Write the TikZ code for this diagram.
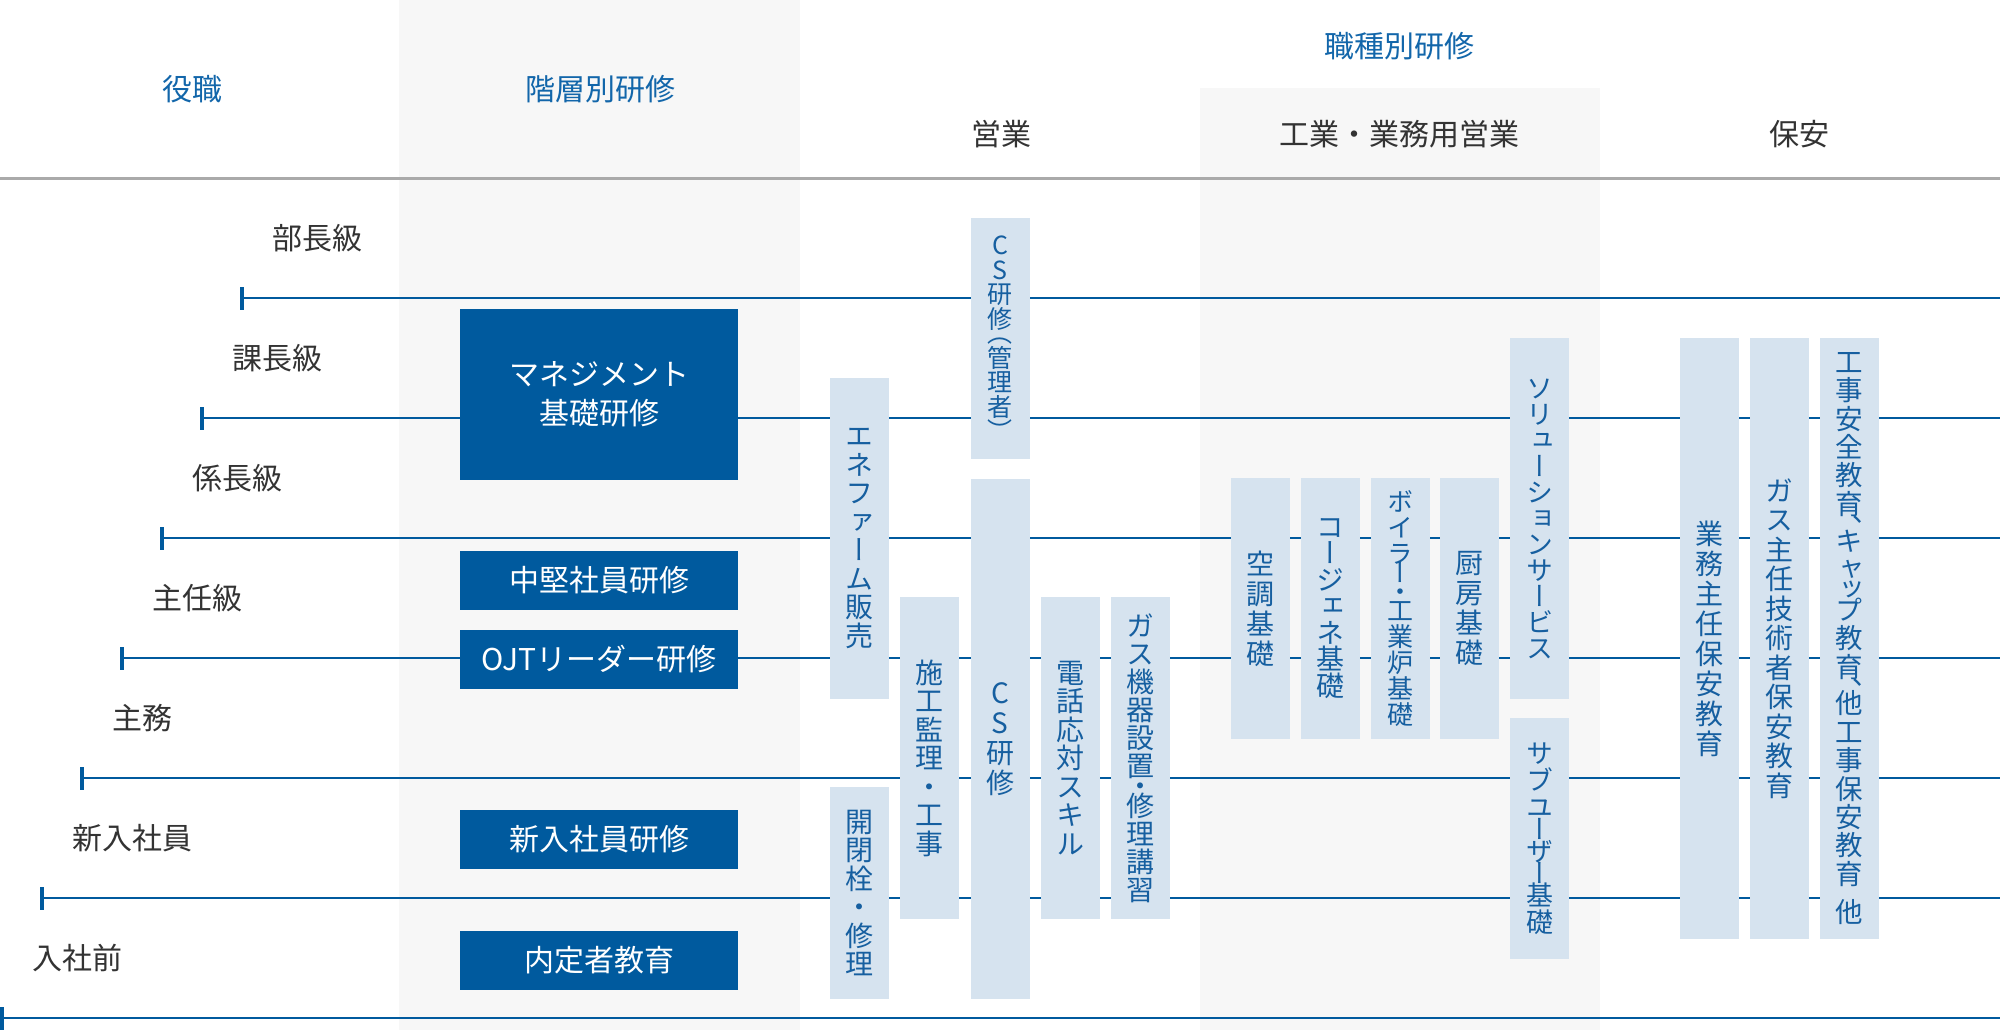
\documentclass[tikz,border=0pt]{standalone}
\usepackage{fontspec}
\setmainfont{Noto Sans CJK JP}
\newfontfamily\cjkv[RawFeature=+vert]{Noto Sans CJK JP}
\lineskiplimit=-100pt
\definecolor{rankblue}{RGB}{0,90,158}
\definecolor{boxlight}{RGB}{214,227,239}
\definecolor{textblue}{RGB}{22,95,160}
\definecolor{headblue}{RGB}{18,102,170}
\definecolor{colgray}{RGB}{247,247,247}
\definecolor{labgray}{RGB}{51,51,51}
\definecolor{rulegray}{RGB}{170,170,170}
\tikzset{
  rankline/.style={rankblue, line width=2.2pt},
  ranktick/.style={rankblue, line width=4pt},
  rolelabel/.style={anchor=west, text=labgray, inner sep=0pt, font=\fontsize{30}{36}\selectfont},
  headlabel/.style={text=headblue, inner sep=0pt, font=\fontsize{30}{36}\selectfont},
  sublabel/.style={text=labgray, inner sep=0pt, font=\fontsize{30}{36}\selectfont},
  darkbox/.style={fill=rankblue, text=white, minimum width=278.5pt, minimum height=59pt,
    inner sep=0pt, align=center, font=\fontsize{30}{39}\selectfont},
  lightbox/.style={fill=boxlight, text=textblue, minimum width=59pt, inner sep=0pt,
    align=center, font=\cjkv\fontsize{28}{28.5}\selectfont},
}
\begin{document}
\begin{tikzpicture}[x=1pt,y=-1pt]
\useasboundingbox (0,0) rectangle (2000,1030);
% shaded columns and header rule
\fill[colgray] (399,0) rectangle (800,1030);
\fill[colgray] (1200,88) rectangle (1600,1030);
\draw[rulegray, line width=2.5pt] (0,178.6) -- (2000,178.6);
% headers
\node[headlabel] (hyaku) at (192,89) {役職};
\node[headlabel] (hkaiso) at (600,89) {階層別研修};
\node[headlabel] (hshoku) at (1399,46) {職種別研修};
\node[sublabel] (heigyo) at (1001,134) {営業};
\node[sublabel] (hkogyo) at (1399,134) {工業・業務用営業};
\node[sublabel] (hhoan) at (1799,134) {保安};
% rank lines, each starting one step further left
\foreach \i/\t in {0/部長級,1/課長級,2/係長級,3/主任級,4/主務,5/新入社員,6/入社前} {
  \coordinate (t\i) at ({242-40*\i},{298.3+120*\i});
  \coordinate (e\i) at (2000,{298.3+120*\i});
  \draw[rankline] (t\i) -- (e\i);
  \draw[ranktick] ([yshift=-11.5pt]t\i) -- ([yshift=11.5pt]t\i);
  \node[rolelabel] (r\i) at ([xshift=30pt,yshift=60pt]t\i) {\t};
}
% hierarchy courses
\node[darkbox, minimum height=171pt] (mgmt) at (599,394.5) {マネジメント\\基礎研修};
\node[darkbox] (chuken) at (599,580.5) {中堅社員研修};
\node[darkbox] (ojt) at (599,659.5) {OJTリーダー研修};
\node[darkbox] (shinjin) at (599,839.5) {新入社員研修};
\node[darkbox] (naitei) at (599,960.5) {内定者教育};
% sales courses
\node[lightbox, minimum height=321pt] (enefarm) at (859.5,538.5) {エ\\ネ\\フ\\ァ\\ー\\ム\\販\\売};
\node[lightbox, minimum height=212pt] (kaiheisen) at (859.5,893) {開\\閉\\栓\\・\\修\\理};
\node[lightbox, minimum height=322pt] (sekou) at (929.75,758) {施\\工\\監\\理\\・\\工\\事};
\node[lightbox, minimum height=241pt, font=\cjkv\fontsize{25}{24.5}\selectfont] (csmgr) at (1000,338.5)
  {C\\S\\研\\修\\[-10pt]（\\管\\理\\者\\）};
\node[lightbox, minimum height=520pt, font=\cjkv\fontsize{28}{30}\selectfont] (cs) at (1000,739) {C\\S\\研\\修};
\node[lightbox, minimum height=322pt] (denwa) at (1070.25,758) {電\\話\\応\\対\\ス\\キ\\ル};
\node[lightbox, minimum height=322pt, font=\cjkv\fontsize{28}{28}\selectfont] (gaskiki) at (1140.5,758)
  {ガ\\ス\\機\\器\\設\\置\\[-8pt]・\\[-8pt]修\\理\\講\\習};
% industrial sales courses
\node[lightbox, minimum height=261pt, font=\cjkv\fontsize{28}{30}\selectfont] (kucho) at (1260.5,608.5) {空\\調\\基\\礎};
\node[lightbox, minimum height=261pt, font=\cjkv\fontsize{28}{26.5}\selectfont] (cogene) at (1330.25,608.5) {コ\\ー\\ジ\\ェ\\ネ\\基\\礎};
\node[lightbox, minimum height=261pt, font=\cjkv\fontsize{26}{26}\selectfont] (boiler) at (1400,608.5)
  {ボ\\イ\\ラ\\[-7pt]ー\\[-7pt]・\\[-7pt]工\\業\\炉\\基\\礎};
\node[lightbox, minimum height=261pt, font=\cjkv\fontsize{28}{30}\selectfont] (chubo) at (1469.75,608.5) {厨\\房\\基\\礎};
\node[lightbox, minimum height=361pt, font=\cjkv\fontsize{27}{26}\selectfont] (solution) at (1539.5,518.5)
  {ソ\\リ\\ュ\\ー\\シ\\ョ\\ン\\サ\\ー\\ビ\\ス};
\node[lightbox, minimum height=241pt, font=\cjkv\fontsize{27}{27}\selectfont] (subuser) at (1539.5,838.5)
  {サ\\ブ\\ユ\\[-5pt]ー\\[-5pt]ザ\\[-5pt]ー\\[-5pt]基\\礎};
% safety courses
\node[lightbox, minimum height=601pt, font=\cjkv\fontsize{28}{30}\selectfont] (gyomu) at (1709.5,638.5) {業\\務\\主\\任\\保\\安\\教\\育};
\node[lightbox, minimum height=601pt, font=\cjkv\fontsize{28}{29.5}\selectfont] (gasshu) at (1779.5,638.5)
  {ガ\\ス\\主\\任\\技\\術\\者\\保\\安\\教\\育};
\node[lightbox, minimum height=601pt, font=\cjkv\fontsize{27.5}{28.4}\selectfont] (kouji) at (1849.5,638.5)
  {工\\事\\安\\全\\教\\育\\[-4pt]、\\[-16pt]キ\\ャ\\[-8pt]ッ\\[-8pt]プ\\教\\育\\[-4pt]、\\[-16pt]他\\工\\事\\保\\安\\教\\育\\[10pt]他};
\end{tikzpicture}
\end{document}
